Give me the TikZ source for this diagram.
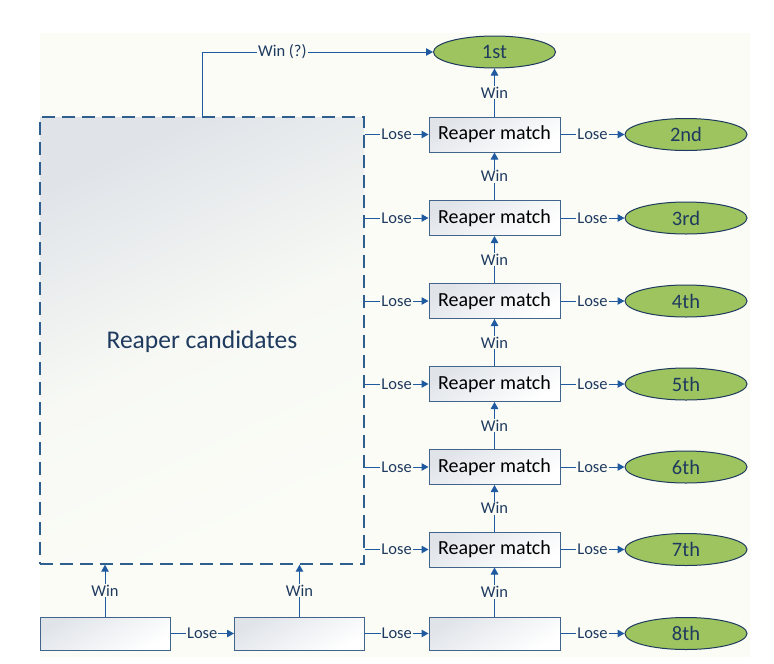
\documentclass[tikz,border=0pt]{standalone}
\usepackage{fontspec}
\setmainfont{Carlito}
\usetikzlibrary{arrows.meta,shapes.geometric}
\definecolor{bgc}{HTML}{FBFCF6}
\definecolor{linec}{HTML}{2F5F8F}
\definecolor{arrc}{HTML}{1F5AA0}
\definecolor{navy}{HTML}{1F3A5F}
\definecolor{boxline}{HTML}{41658A}
\definecolor{greenf}{HTML}{9DC45E}
\definecolor{shadec}{HTML}{E0E4E9}
\tikzset{
  conn/.style={draw=linec, line width=1pt, -{Triangle[length=7pt,width=7.5pt,fill=arrc]}, arrc},
  lbl/.style={fill=bgc, inner sep=1pt, text=navy, font=\fontsize{16.5}{16.5}\selectfont},
  matchbox/.style={draw=boxline, line width=1pt, minimum width=131pt, minimum height=35pt, inner sep=0pt,
     top color=shadec, bottom color=white, shading angle=30, text=black, font=\fontsize{20}{20}\selectfont},
  place/.style={ellipse, draw=navy, line width=1pt, fill=greenf, minimum width=122pt, minimum height=32pt,
     inner sep=0pt, text=navy, font=\fontsize{20.5}{20.5}\selectfont},
}
\begin{document}
\begin{tikzpicture}[x=1pt,y=-1pt]
\useasboundingbox (0,0) rectangle (774,664);
\fill[white] (0,0) rectangle (774,664);
\fill[bgc] (40,33) rectangle (750,657);
% candidates
\node[draw=linec, line width=1.4pt, dash pattern=on 13pt off 7pt, minimum width=324pt, minimum height=447pt,
  top color=shadec, bottom color=bgc, middle color=bgc!88!shadec, shading angle=25, inner sep=0pt] (cand) at (202,340.5) {};
\node[text=navy, font=\fontsize{25.5}{25.5}\selectfont] (candlbl) at (cand.center) [yshift=-1.5pt] {Reaper candidates};
% matches
\node[matchbox] (m1) at (494.5,134.5) {Reaper match};
\node[matchbox] (m2) at (494.5,218) {Reaper match};
\node[matchbox] (m3) at (494.5,301) {Reaper match};
\node[matchbox] (m4) at (494.5,384) {Reaper match};
\node[matchbox] (m5) at (494.5,467) {Reaper match};
\node[matchbox] (m6) at (494.5,549.5) {Reaper match};
% bottom boxes
\node[matchbox, minimum width=130pt, minimum height=33pt] (b1) at (105,633.5) {};
\node[matchbox, minimum width=130pt, minimum height=33pt] (b2) at (299.5,633.5) {};
\node[matchbox, minimum width=131pt, minimum height=33pt] (b3) at (494.5,633.5) {};
% places
\node[place] (e1) at (494.5,52) {1st};
\node[place] (e2) at (686,134.5) {2nd};
\node[place] (e3) at (686,218) {3rd};
\node[place] (e4) at (686,301) {4th};
\node[place] (e5) at (686,384) {5th};
\node[place] (e6) at (686,467) {6th};
\node[place] (e7) at (686,549.5) {7th};
\node[place] (e8) at (686,633.5) {8th};
% Win (?)
\draw[conn] (cand.north) |- node[lbl, pos=0.674] {Win (?)} (e1.west);
% Win chain
\draw[conn] (m1.north) -- node[lbl] {Win} (e1.south);
\draw[conn] (m2.north) -- node[lbl] {Win} (m1.south);
\draw[conn] (m3.north) -- node[lbl] {Win} (m2.south);
\draw[conn] (m4.north) -- node[lbl] {Win} (m3.south);
\draw[conn] (m5.north) -- node[lbl] {Win} (m4.south);
\draw[conn] (m6.north) -- node[lbl] {Win} (m5.south);
\draw[conn] (b3.north) -- node[lbl] {Win} (m6.south);
\draw[conn] (b1.north) -- node[lbl] {Win} (b1.north |- cand.south);
\draw[conn] (b2.north) -- node[lbl] {Win} (b2.north |- cand.south);
% Lose from candidates
\foreach \m in {m1,m2,m3,m4,m5,m6}{
  \draw[conn] (\m.west -| cand.east) -- node[lbl] {Lose} (\m.west);
}
% Lose to places
\draw[conn] (m1.east) -- node[lbl] {Lose} (e2.west);
\draw[conn] (m2.east) -- node[lbl] {Lose} (e3.west);
\draw[conn] (m3.east) -- node[lbl] {Lose} (e4.west);
\draw[conn] (m4.east) -- node[lbl] {Lose} (e5.west);
\draw[conn] (m5.east) -- node[lbl] {Lose} (e6.west);
\draw[conn] (m6.east) -- node[lbl] {Lose} (e7.west);
% bottom row
\draw[conn] (b1.east) -- node[lbl] {Lose} (b2.west);
\draw[conn] (b2.east) -- node[lbl] {Lose} (b3.west);
\draw[conn] (b3.east) -- node[lbl] {Lose} (e8.west);
\end{tikzpicture}
\end{document}
